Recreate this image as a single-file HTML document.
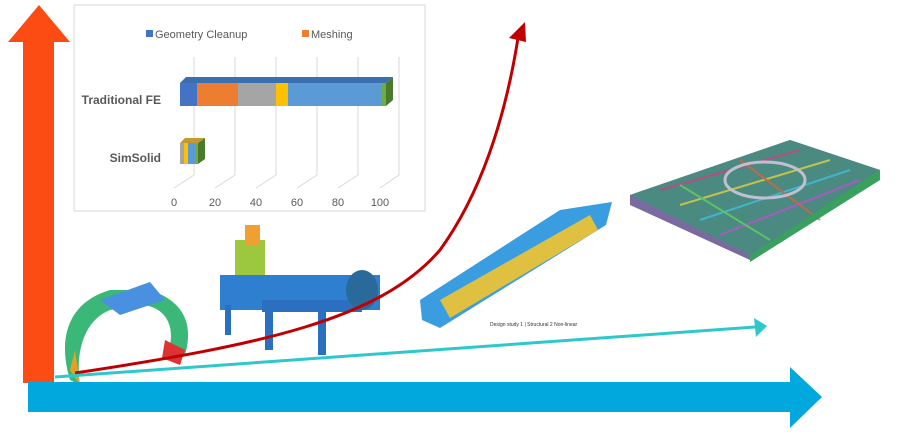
<!DOCTYPE html>
<html><head><meta charset="utf-8"><style>
html,body{margin:0;padding:0;background:#fff;width:900px;height:434px;overflow:hidden}
svg{display:block;font-family:"Liberation Sans",sans-serif}
</style></head><body>
<svg width="900" height="434" viewBox="0 0 900 434">
<rect x="74" y="5" width="351" height="206" fill="#fff" stroke="#d9d9d9"/>
<rect x="146" y="30" width="7" height="7" fill="#4472c4"/>
<text x="155" y="38" font-size="11" fill="#595959">Geometry Cleanup</text>
<rect x="302" y="30" width="7" height="7" fill="#ed7d31"/>
<text x="311" y="38" font-size="11" fill="#595959">Meshing</text>
<g stroke="#d9d9d9" fill="none">
<path d="M194 57V175L174 188"/><path d="M235 57V175L215 188"/><path d="M276 57V175L256 188"/>
<path d="M317 57V175L297 188"/><path d="M358 57V175L338 188"/><path d="M399 57V175L380 188"/>
</g>
<polygon points="180,83 186,77 393,77 386,83" fill="#3a6fb0"/>
<rect x="180" y="83" width="17" height="23" fill="#4472c4"/>
<rect x="197" y="83" width="41" height="23" fill="#ed7d31"/>
<rect x="238" y="83" width="38" height="23" fill="#a5a5a5"/>
<rect x="276" y="83" width="12" height="23" fill="#ffc000"/>
<rect x="288" y="83" width="93" height="23" fill="#5b9bd5"/>
<rect x="381" y="83" width="5" height="23" fill="#70ad47"/>
<polygon points="386,83 393,77 393,100 386,106" fill="#4a7a2e"/>
<polygon points="180,143 185,138 205,138 198,143" fill="#c49a30"/>
<rect x="180" y="143" width="4" height="21" fill="#a5a5a5"/>
<rect x="184" y="143" width="4" height="21" fill="#ffc000"/>
<rect x="188" y="143" width="7" height="21" fill="#5b9bd5"/>
<rect x="195" y="143" width="3" height="21" fill="#70ad47"/>
<polygon points="198,143 205,138 205,159 198,164" fill="#4a7a2e"/>
<text x="161" y="104" font-size="12" font-weight="bold" fill="#595959" text-anchor="end">Traditional FE</text>
<text x="161" y="162" font-size="12" font-weight="bold" fill="#595959" text-anchor="end">SimSolid</text>
<g font-size="11" fill="#595959" text-anchor="middle">
<text x="174" y="206">0</text><text x="215" y="206">20</text><text x="256" y="206">40</text>
<text x="297" y="206">60</text><text x="338" y="206">80</text><text x="380" y="206">100</text>
</g>
<g>
<path d="M70 380 C55 330 75 300 110 290 L150 290 C180 300 195 320 185 355 L170 345 C175 320 160 305 140 305 L110 310 C85 320 75 350 80 385Z" fill="#3bb878"/>
<path d="M100 300 L150 282 L165 300 L120 315Z" fill="#4a90e0"/>
<path d="M165 340 L185 350 L180 365 L162 358Z" fill="#d33"/>
<path d="M70 370 L80 385 L75 350Z" fill="#e8a020"/>
<rect x="220" y="275" width="160" height="35" fill="#2f7fd0"/>
<rect x="235" y="240" width="30" height="35" fill="#9cc840"/>
<rect x="245" y="225" width="15" height="20" fill="#f0a030"/>
<rect x="262" y="300" width="100" height="12" fill="#2a6fc0"/>
<rect x="265" y="310" width="8" height="40" fill="#2a6fc0"/><rect x="318" y="310" width="8" height="45" fill="#2a6fc0"/>
<rect x="225" y="305" width="6" height="30" fill="#2a6fc0"/>
<ellipse cx="362" cy="290" rx="16" ry="20" fill="#2a6a9a"/>
<polygon points="420,300 560,210 612,202 606,225 440,328 422,320" fill="#3a9de0"/>
<polygon points="440,300 590,215 598,230 450,318" fill="#e0c040"/>
<polygon points="630,195 790,140 880,170 750,260 630,205" fill="#7a6aa0"/>
<polygon points="630,195 790,140 880,170 750,255" fill="#4a8a80"/>
<g stroke-width="2" opacity="0.8" fill="none">
<path d="M660 190 L800 150" stroke="#d04080"/><path d="M680 205 L830 160" stroke="#e0d040"/>
<path d="M700 220 L850 170" stroke="#40c0e0"/><path d="M720 235 L860 180" stroke="#c050d0"/>
<path d="M680 185 L770 240" stroke="#60d060"/><path d="M740 160 L820 220" stroke="#e06040"/>
</g>
<ellipse cx="765" cy="180" rx="40" ry="18" fill="none" stroke="#c0c0d0" stroke-width="3"/>
<polygon points="750,255 880,170 880,180 750,262" fill="#3aa060"/>
<text x="490" y="326" font-size="5" fill="#333">Design study 1 | Structural  2 Non-linear</text>
</g>
<path d="M75 373 C260 345 380 320 440 250 C480 195 505 120 518 38" fill="none" stroke="#c00000" stroke-width="3"/>
<polygon points="509,38 525,22 526,42" fill="#c00000"/>
<line x1="55" y1="377" x2="755" y2="327" stroke="#2ec8cc" stroke-width="3"/>
<polygon points="754,318 767,326 756,337" fill="#2ec8cc"/>
<rect x="23" y="40" width="31" height="343" fill="#fc4c14"/>
<polygon points="8,42 39,5 70,42" fill="#fc4c14"/>
<rect x="28" y="382" width="764" height="30" fill="#00a8de"/>
<polygon points="790,367 822,397 790,428" fill="#00a8de"/>
</svg>
</body></html>
